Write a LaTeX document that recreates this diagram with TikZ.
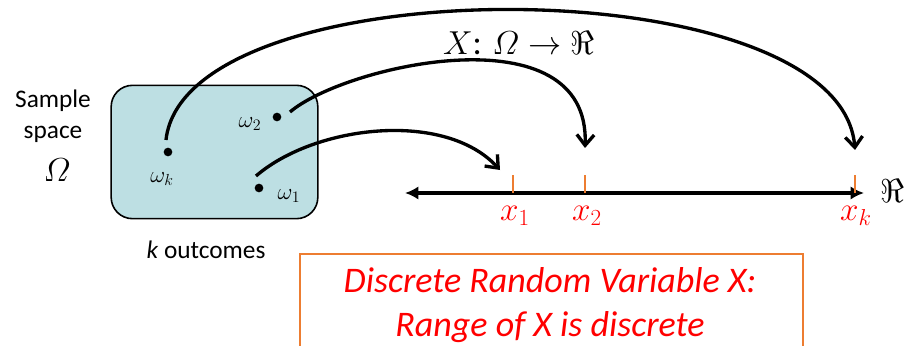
\documentclass[tikz,border=0pt]{standalone}
\usepackage{amsmath,amssymb}
\usepackage{fontspec}
\setmainfont{Carlito}
\usetikzlibrary{arrows.meta,positioning}
\definecolor{spacefill}{HTML}{BDDFE3}
\definecolor{tickorange}{HTML}{ED7D31}

\begin{document}
\begin{tikzpicture}[x=0.75pt,y=-0.75pt,
  dot/.style={circle, fill=black, inner sep=0pt, minimum size=6.5pt},
  omlab/.style={font=\fontsize{17}{19}\selectfont},
  xlab/.style={text=red, font=\fontsize{24}{26}\selectfont},
  txt/.style={font=\fontsize{19}{23}\selectfont, align=center},
  maparrow/.style={-{Straight Barb[length=8pt,width=13pt]}, line width=2.5pt},
  axisline/.style={{Latex[length=10pt,width=10pt]}-{Latex[length=10pt,width=10pt]}, line width=2.5pt},
  tickmark/.style={tickorange, line width=1.3pt}
]
\useasboundingbox (0,0) rectangle (922,346);
% sample space
\node[txt] (samp) at (53,116) {Sample\\space};
\node[font=\fontsize{33}{35}\selectfont] (omg) at (57,170) {$\varOmega$};
\node[draw, line width=1.2pt, fill=spacefill, rounded corners=16pt,
  minimum width=155pt, minimum height=100pt] (space) at (214.5,152) {};
\node[txt] (kout) at (206,250) {\textit{k} outcomes};
% outcomes
\node[dot] (wk) at (168,152) {};
\node[dot] (w2) at (277,117) {};
\node[dot] (w1) at (259,188) {};
\node[omlab] (lk) at (162,179) {$\omega_k$};
\node[omlab] (l2) at (250,124) {$\omega_2$};
\node[omlab] (l1) at (289,196) {$\omega_1$};
% real line
\coordinate (al) at (405,193);
\coordinate (ar) at (864,193);
\draw[axisline] (al) -- (ar);
\node[font=\fontsize{27}{29}\selectfont] (re) at (892,191) {$\Re$};
\coordinate (t1) at (513,193);
\coordinate (t2) at (585,193);
\coordinate (tk) at (855,193);
\foreach \t in {t1,t2,tk}
  \draw[tickmark] (\t) -- ++(0,-18);
\node[xlab] (x1) at (515,216) {$x_1$};
\node[xlab] (x2) at (587,216) {$x_2$};
\node[xlab] (xk) at (856,216) {$x_k$};
% mapping arrows
\coordinate (e1) at (500,170);
\coordinate (e2) at (585,148);
\coordinate (ek) at (855,150);
\draw[maparrow] ([shift={(-3,-12)}]w1.center) .. controls (315,125) and (445,110) .. (e1);
\draw[maparrow] ([shift={(13,-5)}]w2.center) .. controls (345,65) and (590,10) .. (e2);
\draw[maparrow] ([shift={(-2,-12)}]wk.center) .. controls (185,-35) and (840,-35) .. (ek);
\node[font=\fontsize{26}{28}\selectfont] (map) at (519,43) {$X$: $\varOmega \rightarrow \Re$};
% note box
\node[text=red, font=\fontsize{27}{33}\itshape\selectfont, align=center] (rvtext) at (550,305)
  {Discrete Random Variable X:\\Range of X is discrete};
\draw[tickorange, line width=1.5pt] (300,350) -- (300,254) -- (803,254) -- (803,350);
\end{tikzpicture}
\end{document}
